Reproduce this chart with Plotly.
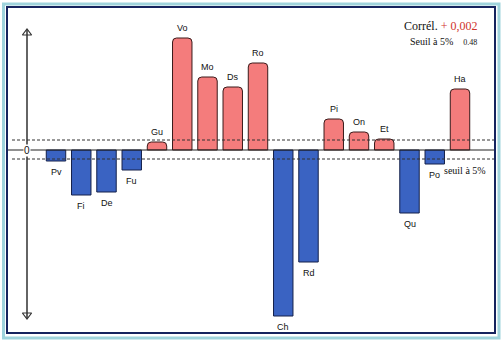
import plotly.graph_objects as go

# ---- data ----
categories = ["Pv", "Fi", "De", "Fu", "Gu", "Vo", "Mo", "Ds", "Ro",
              "Ch", "Rd", "Pi", "On", "Et", "Qu", "Po", "Ha"]
values = [-1.1, -4.5, -4.2, -2.0, 0.8, 11.2, 7.3, 6.3, 8.7,
          -16.6, -11.2, 3.1, 1.8, 1.1, -6.3, -1.4, 6.1]
seuil_haut = 1.0
seuil_bas = -0.9
correl_text = "+ 0,002"
seuil_value_text = "0.48"

W, H = 503, 344
PX_PER_CAT = 25.25
X0 = -56 / PX_PER_CAT
X1 = X0 + W / PX_PER_CAT
Y_TOP, Y_BOT = 15.0, -19.4


def px_x(p):
    return X0 + p / PX_PER_CAT


def px_y(p):
    return Y_TOP - p / 10.0


idx = list(range(len(categories)))
pos_x = [i for i, v in zip(idx, values) if v > 0]
pos_v = [v for v in values if v > 0]
neg_x = [i for i, v in zip(idx, values) if v <= 0]
neg_v = [v for v in values if v <= 0]

fig = go.Figure()
fig.add_trace(go.Bar(x=pos_x, y=pos_v, width=0.77,
                     marker=dict(color="#F47C7C", cornerradius=4,
                                 line=dict(color="#3a1a1a", width=1)),
                     hoverinfo="skip"))
fig.add_trace(go.Bar(x=neg_x, y=neg_v, width=0.77,
                     marker=dict(color="#3A63C2",
                                 line=dict(color="#14204a", width=1)),
                     hoverinfo="skip"))

# vertical axis with open arrowheads
ax_x = px_x(27)
fig.add_trace(go.Scatter(x=[ax_x, ax_x], y=[px_y(30), px_y(318)], mode="lines",
                         line=dict(color="#111", width=1.3), hoverinfo="skip"))
fig.add_trace(go.Scatter(x=[ax_x, ax_x], y=[px_y(33), px_y(315)], mode="markers",
                         marker=dict(symbol=["triangle-up-open", "triangle-down-open"],
                                     size=8, color="#333", line=dict(width=1.2)),
                         hoverinfo="skip"))

shapes = []
# zero line
shapes.append(dict(type="line", xref="x", yref="y", x0=px_x(8), x1=px_x(494),
                   y0=0, y1=0, line=dict(color="#222", width=1)))
# threshold lines
for yv in (seuil_haut, seuil_bas):
    shapes.append(dict(type="line", xref="x", yref="y", x0=px_x(12), x1=px_x(494),
                       y0=yv, y1=yv, line=dict(color="#333", width=1, dash="3px,2px")))
# frame
shapes.append(dict(type="rect", xref="paper", yref="paper",
                   x0=3.5 / W, x1=499 / W, y0=1 - 338 / H, y1=1 - 4 / H,
                   line=dict(color="#9fd3dc", width=3)))
shapes.append(dict(type="rect", xref="paper", yref="paper",
                   x0=7 / W, x1=495 / W, y0=1 - 333 / H, y1=1 - 7 / H,
                   line=dict(color="#15235e", width=2)))

annotations = []
for i, v, c in zip(idx, values, categories):
    annotations.append(dict(x=i, y=v + (1.05 if v > 0 else -1.05), text=c,
                            showarrow=False, font=dict(family="Arial, Liberation Sans",
                                                       size=9, color="#111")))
annotations.append(dict(x=ax_x, y=0, text="0", showarrow=False, bgcolor="white",
                        font=dict(family="Arial, Liberation Sans", size=10, color="#111"),
                        borderpad=0))
annotations.append(dict(x=479 / W, y=1 - 26 / H, xref="paper", yref="paper",
                        xanchor="right", yanchor="middle", showarrow=False,
                        text="Corrél. <span style='color:#d0342c'>" + correl_text + "</span>",
                        font=dict(family="Liberation Serif", size=12, color="#111")))
annotations.append(dict(x=479 / W, y=1 - 41 / H, xref="paper", yref="paper",
                        xanchor="right", yanchor="middle", showarrow=False,
                        text="Seuil à 5%    <span style='font-size:8px'>" + seuil_value_text + "</span>",
                        font=dict(family="Liberation Serif", size=10, color="#111")))
annotations.append(dict(x=488 / W, y=1 - 170 / H, xref="paper", yref="paper",
                        xanchor="right", showarrow=False, text="seuil à 5%",
                        font=dict(family="Liberation Serif", size=10, color="#111")))

fig.update_layout(
    width=W, height=H, margin=dict(l=0, r=0, t=0, b=0),
    paper_bgcolor="white", plot_bgcolor="white",
    barmode="overlay", showlegend=False,
    xaxis=dict(range=[X0, X1], visible=False, fixedrange=True),
    yaxis=dict(range=[Y_BOT, Y_TOP], visible=False, fixedrange=True),
    shapes=shapes, annotations=annotations,
)

fig.write_html("out.html", config={"displayModeBar": False})
